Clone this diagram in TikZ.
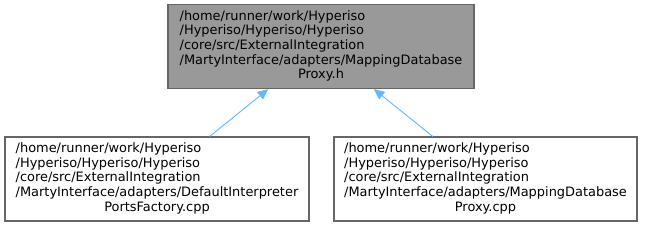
\documentclass[tikz,border=0pt]{standalone}
\usepackage{fontspec}
\setmainfont{DejaVu Sans}
\usetikzlibrary{arrows.meta}
\definecolor{edgeblue}{HTML}{63B8FF}
\definecolor{boxborder}{HTML}{666666}
\definecolor{topfill}{HTML}{999999}
\tikzset{
  filebox/.style={draw=boxborder, line width=0.8pt, minimum width=#1, minimum height=63pt, inner sep=0pt,
    font=\fontsize{9.7}{11}\selectfont},
  depedge/.style={draw=edgeblue, line width=0.7pt, {Triangle[length=8pt,width=7pt]}-}
}
\newcommand{\fbtext}[5]{\begin{tabular}{@{}l@{}}#1\\#2\\#3\\#4\\\multicolumn{1}{@{}c@{}}{#5}\end{tabular}}
\begin{document}
\begin{tikzpicture}[x=0.75pt,y=-0.75pt]
\useasboundingbox (0,0) rectangle (645,227);
\node[filebox=229.5pt, fill=topfill] (top) at (321,46.5) {\fbtext{/home/runner/work/Hyperiso}{/Hyperiso/Hyperiso/Hyperiso}{/core/src/ExternalIntegration}{/MartyInterface/adapters/MappingDatabase}{Proxy.h}};
\node[filebox=228pt] (bl) at (157,179) {\fbtext{/home/runner/work/Hyperiso}{/Hyperiso/Hyperiso/Hyperiso}{/core/src/ExternalIntegration}{/MartyInterface/adapters/DefaultInterpreter}{PortsFactory.cpp}};
\node[filebox=227.25pt] (br) at (485.5,179) {\fbtext{/home/runner/work/Hyperiso}{/Hyperiso/Hyperiso/Hyperiso}{/core/src/ExternalIntegration}{/MartyInterface/adapters/MappingDatabase}{Proxy.cpp}};
\draw[depedge] (top) -- (bl);
\draw[depedge] (top) -- (br);
\end{tikzpicture}
\end{document}
